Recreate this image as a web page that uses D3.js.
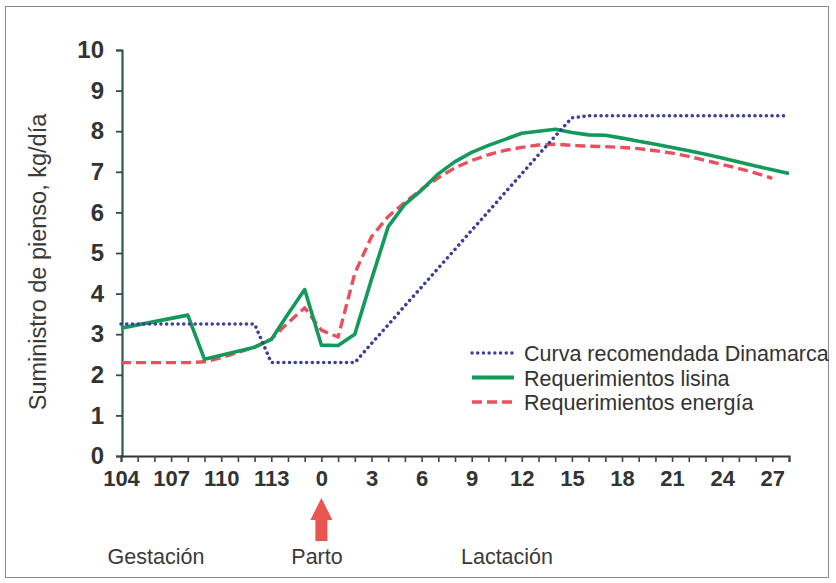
<!DOCTYPE html>
<html><head><meta charset="utf-8">
<script src="https://cdn.jsdelivr.net/npm/d3@7/dist/d3.min.js"></script>
<style>body{margin:0;background:#fff}svg{display:block}</style>
</head><body><svg id="c" width="836" height="583"></svg>
<script>
// Categories: gestation days 104-115, then lactation days 0-28
const categories = ["104","105","106","107","108","109","110","111","112","113","114","115",
  "0","1","2","3","4","5","6","7","8","9","10","11","12","13","14","15","16","17","18","19","20","21","22","23","24","25","26","27","28"];
const xTickLabels = ["104","107","110","113","0","3","6","9","12","15","18","21","24","27"];
const yTicks = [0,1,2,3,4,5,6,7,8,9,10];

const curvaDinamarca = [3.25,3.25,3.25,3.25,3.25,3.25,3.25,3.25,3.25,2.3,2.3,2.3,
  2.3,2.3,2.3,2.77,3.23,3.70,4.16,4.63,5.09,5.56,6.02,6.49,6.95,7.42,7.88,8.33,
  8.38,8.38,8.38,8.38,8.38,8.38,8.38,8.38,8.38,8.38,8.38,8.38,8.38];
const reqLisina = [3.15,3.23,3.31,3.39,3.47,2.38,2.48,2.58,2.68,2.87,3.5,4.1,
  2.73,2.72,3.0,4.35,5.65,6.2,6.55,6.95,7.25,7.48,7.65,7.8,7.95,8.0,8.05,7.97,
  7.91,7.9,7.83,7.75,7.68,7.6,7.52,7.43,7.34,7.24,7.14,7.05,6.96];
const reqEnergia = [2.3,2.3,2.3,2.3,2.3,2.32,2.42,2.55,2.68,2.88,3.28,3.65,
  3.1,2.93,4.5,5.4,5.9,6.25,6.57,6.85,7.1,7.28,7.42,7.53,7.6,7.66,7.68,7.65,
  7.63,7.62,7.6,7.57,7.52,7.46,7.38,7.28,7.18,7.08,6.97,6.84];

const seriesNames = ["Curva recomendada Dinamarca","Requerimientos lisina","Requerimientos energía"];
const phaseLabels = ["Gestación","Parto","Lactación"];

const svg = d3.select("#c");
const FONT = "'Liberation Sans', Arial, Helvetica, sans-serif";

svg.append("rect").attr("x",5.5).attr("y",6.5).attr("width",823).attr("height",571)
  .attr("fill","#fff").attr("stroke","#8a8a8a").attr("stroke-width",1);

const x = d3.scalePoint().domain(categories).range([121, 789]);
const y = d3.scaleLinear().domain([0,10]).range([456, 50]);

// Y axis
const yAxis = svg.append("g").attr("transform","translate(122,0)")
  .call(d3.axisLeft(y).tickValues(yTicks).tickSize(6).tickPadding(12).tickFormat(d3.format("d")));
yAxis.select(".domain").attr("stroke","#2d5a52").attr("stroke-width",2.2);
yAxis.selectAll(".tick line").attr("stroke","#3a4a48").attr("stroke-width",1.8);
yAxis.selectAll(".tick text").attr("font-family",FONT).attr("font-size",24).attr("font-weight","bold")
  .attr("fill","#333");

// X axis
const labelSet = new Set(xTickLabels);
const xAxis = svg.append("g").attr("transform","translate(0,456)")
  .call(d3.axisBottom(x).tickSizeOuter(0).tickSize(6).tickPadding(8).tickFormat(d => labelSet.has(d) ? d : ""));
xAxis.select(".domain").attr("stroke","#333").attr("stroke-width",2);
xAxis.selectAll(".tick line").attr("stroke","#444").attr("stroke-width",1.6);
xAxis.selectAll(".tick text").attr("font-family",FONT).attr("font-size",22).attr("font-weight","bold")
  .attr("fill","#333");

// Y title
svg.append("text").attr("transform","translate(46,262) rotate(-90)")
  .attr("text-anchor","middle").attr("font-family",FONT).attr("font-size",23.5)
  .attr("fill","#3a3a3a").text("Suministro de pienso, kg/día");

const line = d3.line().x((d,i) => x(categories[i])).y(d => y(d));

const styles = [
  {color:"#3d3f96", width:3.5, dash:"0.1,5.6", cap:"round"},
  {color:"#139a5a", width:3.6, dash:null, cap:"butt"},
  {color:"#e8505e", width:3.4, dash:"10,5", cap:"butt"}
];
const data = [curvaDinamarca, reqLisina, reqEnergia];

[2,1,0].forEach(k => {
  svg.append("path").datum(data[k]).attr("d", line)
    .attr("fill","none").attr("stroke",styles[k].color).attr("stroke-width",styles[k].width)
    .attr("stroke-dasharray",styles[k].dash).attr("stroke-linecap",styles[k].cap)
    .attr("stroke-linejoin","round");
});

// Legend
const leg = svg.append("g");
seriesNames.forEach((name,k) => {
  const cy = 353 + k*24.5;
  leg.append("line").attr("x1",472).attr("x2",514).attr("y1",cy).attr("y2",cy)
    .attr("stroke",styles[k].color).attr("stroke-width",k===1?4.2:3.4)
    .attr("stroke-dasharray",styles[k].dash).attr("stroke-linecap",styles[k].cap);
  leg.append("text").attr("x",524).attr("y",cy+8).attr("font-family",FONT).attr("font-size",21.5)
    .attr("fill","#333").text(name);
});

// Parto arrow
const ax = x("0");
svg.append("path")
  .attr("d",`M${ax},498 L${ax+11},520 L${ax+6},520 L${ax+6},541 L${ax-6},541 L${ax-6},520 L${ax-11},520 Z`)
  .attr("fill","#e9554f");

// Phase labels
const phaseX = [156, 317, 507];
phaseLabels.forEach((t,i) => {
  svg.append("text").attr("x",phaseX[i]).attr("y",564).attr("text-anchor","middle")
    .attr("font-family",FONT).attr("font-size",21.5).attr("fill","#3a3a3a").text(t);
});
</script></body></html>
